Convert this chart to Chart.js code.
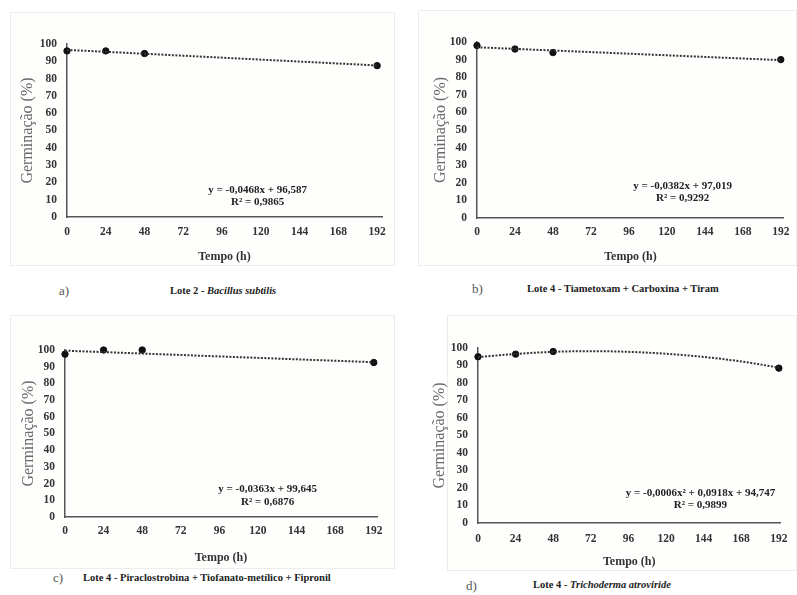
<!DOCTYPE html>
<html>
<head>
<meta charset="utf-8">
<script src="https://cdn.jsdelivr.net/npm/chart.js@4.4.1/dist/chart.umd.min.js"></script>
<style>
  body { margin: 0; background: #fff; width: 797px; height: 595px; position: relative; overflow: hidden; font-family: "Liberation Serif", serif; }
  .box { position: absolute; border: 1px solid #ededeb; background: #fefefd; box-sizing: border-box; }
  canvas { position: absolute; }
  .cap { position: absolute; color: #555; font-size: 13px; line-height: 1; }
  .ttl { position: absolute; color: #222; font-weight: bold; font-size: 10.5px; line-height: 1; white-space: nowrap; }
</style>
</head>
<body>

<div class="box" style="left:10px;top:12px;width:385px;height:254px"></div>
<div class="box" style="left:418px;top:10px;width:379px;height:256px"></div>
<div class="box" style="left:10px;top:315px;width:385px;height:254px"></div>
<div class="box" style="left:447px;top:315px;width:350px;height:256px"></div>

<canvas id="chartA" width="385" height="253" style="left:10px;top:12px"></canvas>
<canvas id="chartB" width="379" height="255" style="left:418px;top:10px"></canvas>
<canvas id="chartC" width="385" height="255" style="left:10px;top:315px"></canvas>
<canvas id="chartD" width="367" height="257" style="left:430px;top:315px"></canvas>

<div class="cap" style="left:59px;top:284px">a)</div>
<div class="ttl" style="left:170px;top:286px">Lote 2 - <i>Bacillus subtilis</i></div>
<div class="cap" style="left:472px;top:282px">b)</div>
<div class="ttl" style="left:527px;top:284px">Lote 4 - Tiametoxam + Carboxina + Tiram</div>
<div class="cap" style="left:53px;top:571px">c)</div>
<div class="ttl" style="left:83px;top:573px">Lote 4 - Piraclostrobina + Tiofanato-metílico + Fipronil</div>
<div class="cap" style="left:466px;top:579px">d)</div>
<div class="ttl" style="left:533px;top:580px">Lote 4 - <i>Trichoderma atroviride</i></div>

<script>
// tempo (h) e germinação (%)
let xTicks = [0, 24, 48, 72, 96, 120, 144, 168, 192];
let yTicks = [0, 10, 20, 30, 40, 50, 60, 70, 80, 90, 100];
let timeH = [0, 24, 48, 192];

let germA = [96, 96, 94.5, 87.5];
let germB = [98, 96, 94, 90];
let germC = [97.5, 100, 100, 92.5];
let germD = [95, 96.5, 98, 88.5];

// linhas de tendência
let trendXLin = [0, 192];
let trendA = [96.6, 87.6];
let trendB = [97, 89.7];
let trendC = [99.6, 92.7];
let trendXD = [0, 24, 48, 72, 96, 120, 144, 168, 192];
let trendD = [94.8, 96.6, 97.8, 98.2, 97.8, 96.7, 94.9, 92.3, 88.8];

let eqA = ["y = -0,0468x + 96,587", "R² = 0,9865"];
let eqB = ["y = -0,0382x + 97,019", "R² = 0,9292"];
let eqC = ["y = -0,0363x + 99,645", "R² = 0,6876"];
let eqD = ["y = -0,0006x² + 0,0918x + 94,747", "R² = 0,9899"];

let xTitle = "Tempo (h)";
let yTitle = "Germinação (%)";

function toPoints(xs, ys) {
  let pts = [];
  for (let i = 0; i < xs.length; i++) {
    pts.push({ x: xs[i], y: ys[i] });
  }
  return pts;
}

// escreve a equação e o R² dentro do gráfico
const eqLabel = {
  id: "eqLabel",
  afterDatasetsDraw(chart, args, opts) {
    const ctx = chart.ctx;
    const px = chart.scales.x.getPixelForValue(opts.x);
    ctx.save();
    ctx.font = "bold 11px 'Liberation Serif'";
    ctx.fillStyle = "#222";
    ctx.textAlign = "center";
    ctx.textBaseline = "middle";
    ctx.fillText(opts.lines[0], px, chart.scales.y.getPixelForValue(opts.y1));
    ctx.fillText(opts.lines[1], px, chart.scales.y.getPixelForValue(opts.y2));
    ctx.restore();
  },
};

function makeChart(id, pts, trend, eq, g) {
  const ctx = document.getElementById(id);
  return new Chart(ctx, {
    type: "scatter",
    data: {
      datasets: [
        {
          data: trend,
          showLine: true,
          borderColor: "#333",
          borderWidth: 2,
          borderDash: [2, 1.5],
          pointRadius: 0,
          tension: trend.length > 2 ? 0.4 : 0,
          cubicInterpolationMode: "monotone",
          clip: false,
        },
        {
          data: pts,
          pointRadius: 3.2,
          pointBackgroundColor: "#111",
          pointBorderColor: "#111",
          clip: false,
        },
      ],
    },
    options: {
      responsive: false,
      animation: false,
      layout: {
        padding: { left: 0, top: g.padTop, right: g.padRight, bottom: 0 },
      },
      plugins: {
        legend: { display: false },
        tooltip: { enabled: false },
        eqLabel: { lines: eq, x: g.eqX, y1: g.eqY1, y2: g.eqY2 },
      },
      scales: {
        x: {
          type: "linear",
          min: 0,
          max: g.xMax,
          afterBuildTicks: (s) => { s.ticks = xTicks.map((v) => ({ value: v })); },
          afterFit: (s) => { s.height = g.xH; },
          grid: { display: false, drawTicks: false },
          border: { color: "#555", width: 1.5 },
          ticks: {
            autoSkip: false,
            maxRotation: 0,
            padding: g.xTickPad,
            color: "#333",
            font: { family: "'Liberation Serif'", size: 11.5, weight: "bold" },
          },
          title: {
            display: true,
            text: xTitle,
            color: "#333",
            padding: { top: 0, bottom: g.xTitlePad },
            font: { family: "'Liberation Serif'", size: 12, weight: "bold" },
          },
        },
        y: {
          min: 0,
          max: 100,
          afterBuildTicks: (s) => { s.ticks = yTicks.map((v) => ({ value: v })); },
          afterFit: (s) => { s.width = g.yW; },
          grid: { display: false, drawTicks: false },
          border: { color: "#555", width: 1.5 },
          ticks: {
            autoSkip: false,
            padding: 10,
            color: "#333",
            font: { family: "'Liberation Serif'", size: 11.5, weight: "bold" },
          },
          title: {
            display: true,
            text: yTitle,
            color: "#6a6a6a",
            padding: { top: g.yTitlePad, bottom: 0 },
            font: { family: "'Liberation Serif'", size: 16 },
          },
        },
      },
    },
    plugins: [eqLabel],
  });
}

makeChart("chartA", toPoints(timeH, germA), toPoints(trendXLin, trendA), eqA,
  { padTop: 32, padRight: 13, xMax: 195, xH: 48, xTickPad: 8, xTitlePad: 1, yW: 57, yTitlePad: 8.5, eqX: 118, eqY1: 15.6, eqY2: 8.7 });

makeChart("chartB", toPoints(timeH, germB), toPoints(trendXLin, trendB), eqB,
  { padTop: 32, padRight: 7, xMax: 194, xH: 47, xTickPad: 7.5, xTitlePad: 1, yW: 59, yTitlePad: 13.4, eqX: 130, eqY1: 18.2, eqY2: 11.4 });

makeChart("chartC", toPoints(timeH, germC), toPoints(trendXLin, trendC), eqC,
  { padTop: 35, padRight: 18, xMax: 194, xH: 53, xTickPad: 7.5, xTitlePad: 5, yW: 55, yTitlePad: 9.4, eqX: 126, eqY1: 16.8, eqY2: 9 });

makeChart("chartD", toPoints(timeH, germD), toPoints(trendXD, trendD), eqD,
  { padTop: 33, padRight: 8.4, xMax: 193, xH: 49, xTickPad: 9.5, xTitlePad: 3, yW: 48, yTitlePad: 0.5, eqX: 142, eqY1: 17.1, eqY2: 10.3 });
</script>
</body>
</html>
